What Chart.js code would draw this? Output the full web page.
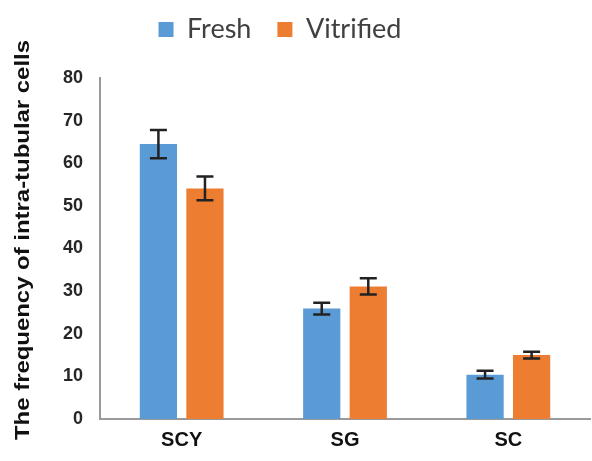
<!DOCTYPE html>
<html><head><meta charset="utf-8">
<script src="https://cdn.jsdelivr.net/npm/chart.js@4/dist/chart.umd.min.js"></script>
<style>html,body{margin:0;padding:0;background:#fff;}#wrap{width:592px;height:461px;}</style>
</head><body><div id="wrap"><canvas id="c" width="592" height="461"></canvas></div>
<script>
const categories = ["SCY", "SG", "SC"];
const seriesNames = ["Fresh", "Vitrified"];
const freshValues = [64.5, 25.9, 10.4];
const freshErrors = [3.3, 1.4, 0.9];
const vitrifiedValues = [54.1, 31.1, 15.0];
const vitrifiedErrors = [2.8, 1.9, 0.8];
const yTicks = [0, 10, 20, 30, 40, 50, 60, 70, 80];
const yTitle = 'The frequency of intra-tubular cells';

const LEGEND_EXTRA_HEIGHT = 15;
const LEGEND_SHIFT_X = -38;
const LEGEND_SHIFT_Y = -10;

const errorBarPlugin = {
  id: 'errorBars',
  afterDatasetsDraw(chart) {
    const ctx = chart.ctx;
    const yScale = chart.scales.y;
    chart.data.datasets.forEach((ds, i) => {
      const meta = chart.getDatasetMeta(i);
      meta.data.forEach((bar, j) => {
        const v = ds.data[j], e = ds.errors[j];
        const yTop = yScale.getPixelForValue(v + e);
        const yBot = yScale.getPixelForValue(v - e);
        const x = bar.x, cap = 8.5;
        ctx.save();
        ctx.strokeStyle = '#222';
        ctx.lineWidth = 2.5;
        ctx.beginPath();
        ctx.moveTo(x, yTop); ctx.lineTo(x, yBot);
        ctx.moveTo(x - cap, yTop); ctx.lineTo(x + cap, yTop);
        ctx.moveTo(x - cap, yBot); ctx.lineTo(x + cap, yBot);
        ctx.stroke();
        ctx.restore();
      });
    });
  }
};

const layoutPlugin = {
  id: 'layoutTweaks',
  beforeLayout(chart) {
    const lg = chart.legend;
    if (lg && !lg._patched) {
      const f = lg.fit.bind(lg);
      lg.fit = function () { f(); this.height += LEGEND_EXTRA_HEIGHT; };
      lg._patched = true;
    }
  },
  afterLayout(chart) {
    const lg = chart.legend;
    if (lg) {
      lg.left += LEGEND_SHIFT_X; lg.right += LEGEND_SHIFT_X;
      lg.top += LEGEND_SHIFT_Y; lg.bottom += LEGEND_SHIFT_Y;
    }
  },
  afterDraw(chart) {
    const ctx = chart.ctx;
    ctx.save();
    ctx.translate(23, 240);
    ctx.rotate(-Math.PI / 2);
    ctx.font = 'bold 20px "Liberation Sans"';
    const w = ctx.measureText(yTitle).width;
    ctx.scale(400 / w, 1);
    ctx.fillStyle = '#111';
    ctx.textAlign = 'center';
    ctx.textBaseline = 'middle';
    ctx.fillText(yTitle, 0, 0);
    ctx.restore();
  }
};

new Chart(document.getElementById('c'), {
  type: 'bar',
  data: {
    labels: categories,
    datasets: [
      { label: seriesNames[0], data: freshValues, errors: freshErrors, backgroundColor: '#5B9BD5', categoryPercentage: 0.57, barPercentage: 0.8 },
      { label: seriesNames[1], data: vitrifiedValues, errors: vitrifiedErrors, backgroundColor: '#ED7D31', categoryPercentage: 0.57, barPercentage: 0.8 }
    ]
  },
  options: {
    responsive: false,
    animation: false,
    layout: { padding: { left: 46, right: 2, top: 0, bottom: 0 } },
    plugins: {
      legend: {
        display: true,
        position: 'top',
        labels: {
          boxWidth: 15, boxHeight: 15, padding: 26,
          color: '#404040',
          font: { family: 'Lato', size: 27 }
        }
      },
      tooltip: { enabled: false }
    },
    scales: {
      x: {
        grid: { display: false, drawTicks: false },
        border: { display: true, color: '#9a9a9a', width: 2 },
        ticks: { color: '#111', padding: 9, font: { family: 'Liberation Sans', size: 20, weight: 'bold' } }
      },
      y: {
        min: 0, max: 80,
        afterBuildTicks: (s) => { s.ticks = yTicks.map(v => ({ value: v })); },
        grid: { display: false, drawTicks: false },
        border: { display: true, color: '#9a9a9a', width: 2 },
        ticks: { color: '#262626', padding: 17, font: { family: 'Liberation Sans', size: 18, weight: 'bold' } }
      }
    }
  },
  plugins: [errorBarPlugin, layoutPlugin]
});
</script>
</body></html>
